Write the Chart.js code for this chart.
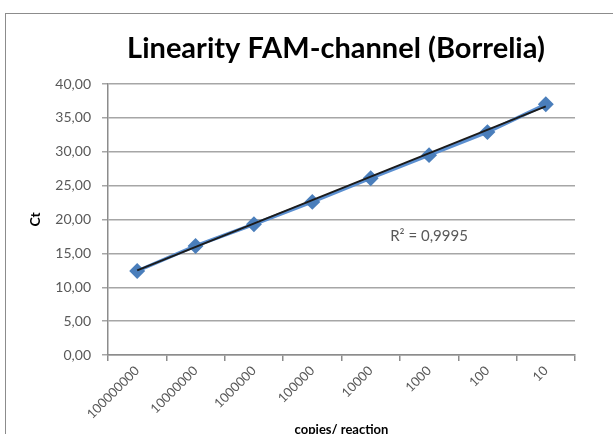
<!DOCTYPE html>
<html>
<head>
<meta charset="utf-8">
<script src="https://cdn.jsdelivr.net/npm/chart.js@4"></script>
<style>
  html,body{margin:0;padding:0;background:#fff;overflow:hidden;}
  #wrap{position:absolute;left:0;top:0;width:613px;height:434px;}
  #frame{position:absolute;left:5px;top:13px;width:700px;height:500px;border-left:1.5px solid #8c8c8c;border-top:1.5px solid #8c8c8c;}
  canvas{position:absolute;left:0;top:0;}
</style>
</head>
<body>
<div id="wrap">
  <div id="frame"></div>
  <canvas id="c" width="613" height="434"></canvas>
</div>
<script>
const categories = ["100000000","10000000","1000000","100000","10000","1000","100","10"];
const ctValues = [12.4, 16.1, 19.3, 22.6, 26.1, 29.5, 32.9, 37.0];
const trendEnds = [12.5, null, null, null, null, null, null, 36.7];
const yTicks = [0,5,10,15,20,25,30,35,40];
const chartTitle = "Linearity FAM-channel (Borrelia)";
const r2Label = "R\u00B2 = 0,9995";

const fmt = v => v.toFixed(2).replace('.', ',');

const textPlugin = {
  id: 'texts',
  afterDatasetsDraw(chart) {
    const {ctx, scales} = chart;
    ctx.save();
    // R² annotation
    const x = scales.x.getPixelForValue(5);
    const y = scales.y.getPixelForValue(17.5);
    ctx.font = '15px Lato';
    ctx.fillStyle = '#595959';
    ctx.textAlign = 'center';
    ctx.textBaseline = 'middle';
    ctx.fillText(r2Label, x, y);
    // Chart title
    ctx.font = 'bold 29px Lato';
    ctx.fillStyle = '#000';
    ctx.textAlign = 'center';
    ctx.textBaseline = 'alphabetic';
    ctx.fillText(chartTitle, 336, 58);
    ctx.restore();
  }
};

new Chart(document.getElementById('c'), {
  type: 'line',
  data: {
    labels: categories,
    datasets: [
      {
        label: 'Trend',
        data: trendEnds,
        spanGaps: true,
        borderColor: '#1b1b1b',
        borderWidth: 2,
        pointRadius: 0,
        order: 0
      },
      {
        label: 'Ct',
        data: ctValues,
        borderColor: '#5b8fd0',
        borderWidth: 3.5,
        backgroundColor: '#4a7ebb',
        pointStyle: 'rectRot',
        pointRadius: 5.5,
        pointBackgroundColor: '#4a7ebb',
        pointBorderColor: '#4a7ebb',
        tension: 0,
        order: 1
      }
    ]
  },
  options: {
    responsive: false,
    animation: false,
    devicePixelRatio: 1,
    layout: { padding: { left: 0, right: 38, top: 84, bottom: 0 } },
    plugins: {
      legend: { display: false },
      tooltip: { enabled: false },
      title: { display: false }
    },
    scales: {
      x: {
        type: 'category',
        offset: true,
        afterFit(s) { s.height = 79; },
        grid: { offset: true, drawOnChartArea: false, tickLength: 6, color: '#8c8c8c', lineWidth: 1.5 },
        border: { color: '#8c8c8c', width: 1.5 },
        ticks: { color: '#595959', font: { family: 'Lato', size: 13 }, minRotation: 45, maxRotation: 45, padding: 2, autoSkip: false },
        title: { display: true, text: 'copies/ reaction', color: '#000', font: { family: 'Lato', size: 13, weight: 'bold' }, padding: { top: 0, bottom: -4 } }
      },
      y: {
        min: 0, max: 40,
        afterFit(s) { s.width = 108; },
        afterBuildTicks(s) { s.ticks = yTicks.map(v => ({ value: v })); },
        grid: { color: '#a6a6a6', lineWidth: 1.5, tickLength: 6 },
        border: { color: '#8c8c8c', width: 1.5 },
        ticks: { color: '#595959', font: { family: 'Lato', size: 14 }, padding: 11, callback: v => fmt(v) },
        title: { display: true, text: 'Ct', color: '#000', font: { family: 'Lato', size: 14, weight: 'bold' }, padding: { top: 27, bottom: 0 } }
      }
    }
  },
  plugins: [textPlugin]
});
</script>
</body>
</html>
